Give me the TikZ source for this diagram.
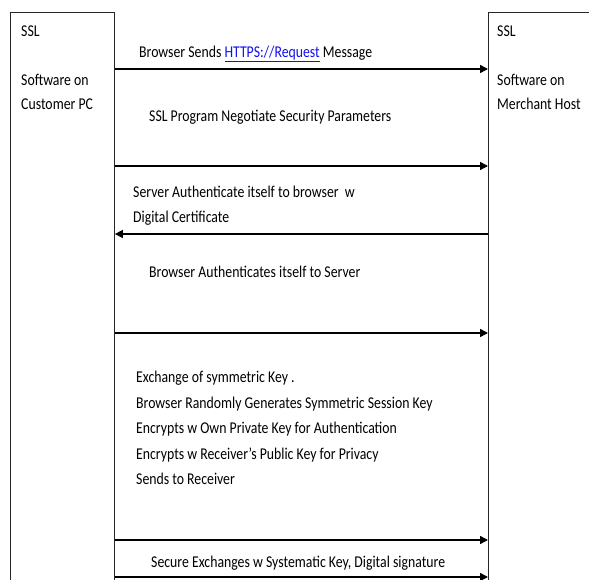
\documentclass[tikz,border=0pt]{standalone}
\usepackage{fontspec}
\setmainfont{Carlito}[FakeStretch=0.835]
\usetikzlibrary{arrows.meta}
\definecolor{linkblue}{HTML}{1010F0}
\begin{document}
\begin{tikzpicture}[x=1pt,y=-1pt,
  lbl/.style={anchor=base west,inner sep=0pt,font=\fontsize{16.5}{18}\selectfont},
  box/.style={draw=black!85,line width=0.9pt,anchor=north west,inner sep=0pt},
  msg/.style={draw=black,line width=1.5pt,-{Triangle[length=8pt,width=8pt]}}]
\useasboundingbox (0,0) rectangle (589,580);
% boxes (extend past the bottom / right edge)
\node[box,minimum width=104pt,minimum height=600pt] (cust) at (10,12) {};
\node[box,minimum width=120pt,minimum height=600pt] (merch) at (488,12) {};
% box texts
\node[lbl] (c1) at (21,37) {SSL};
\node[lbl] (c2) at (21,86) {Software on};
\node[lbl] (c3) at (21,110) {Customer PC};
\node[lbl] (m1) at (497,37) {SSL};
\node[lbl] (m2) at (497,86) {Software on};
\node[lbl] (m3) at (497,110) {Merchant Host};
% message texts
\node[lbl] (t1) at (139,57.5) {Browser Sends \textcolor{linkblue}{\underline{HTTPS://Request}} Message};
\node[lbl] (t2) at (149,122) {SSL Program Negotiate Security Parameters};
\node[lbl] (t3) at (133,198) {Server Authenticate itself to browser\ \ w};
\node[lbl] (t4) at (133,223) {Digital Certificate};
\node[lbl] (t5) at (149,277) {Browser Authenticates itself to Server};
\node[lbl] (t6) at (136,382.5) {Exchange of symmetric Key .};
\node[lbl] (t7) at (136,408) {Browser Randomly Generates Symmetric Session Key};
\node[lbl] (t8) at (136,433.5) {Encrypts w Own Private Key for Authentication};
\node[lbl] (t9) at (136,459) {Encrypts w Receiver’s Public Key for Privacy};
\node[lbl] (t10) at (136,484.5) {Sends to Receiver};
\node[lbl] (t11) at (151,567) {Secure Exchanges w Systematic Key, Digital signature};
% arrow end points on the box edges
\foreach \n/\y in {1/69,2/166,3/234,4/333,5/540,6/577}{
  \coordinate (L\n) at (cust.east |- 0,\y);
  \coordinate (R\n) at (merch.west |- 0,\y);
}
\draw[msg] (L1) -- (R1);
\draw[msg] (L2) -- (R2);
\draw[msg] (R3) -- (L3);
\draw[msg] (L4) -- (R4);
\draw[msg] (L5) -- (R5);
\draw[msg] (L6) -- (R6);
\end{tikzpicture}
\end{document}
